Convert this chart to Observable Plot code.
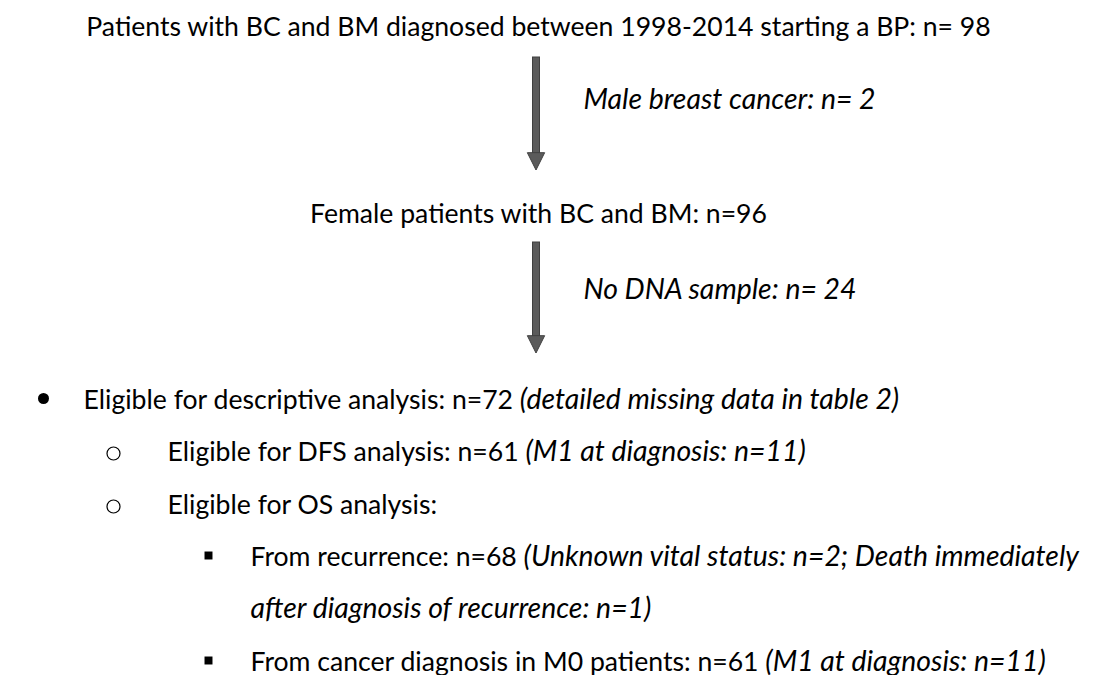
<!DOCTYPE html>
<html><head><meta charset="utf-8">
<script src="https://cdn.jsdelivr.net/npm/d3@7"></script>
<script src="https://cdn.jsdelivr.net/npm/@observablehq/plot@0.6"></script>
<style>html,body{margin:0;padding:0;background:#fff}svg{display:block}</style>
</head><body><div id="chart"></div>
<script>
// ---------- data ----------
const stepText = ["Patients with BC and BM diagnosed between 1998-2014 starting a BP: n= ", "Female patients with BC and BM: n="];
const stepN = [98, 96];
const exclText = ["Male breast cancer: n= ", "No DNA sample: n= "];
const exclN = [2, 24];
const listLevel = [0, 1, 1, 2, 3, 2]; // 3 = continuation line of level 2
const listMain = [
  "Eligible for descriptive analysis: n=72 ",
  "Eligible for DFS analysis: n=61 ",
  "Eligible for OS analysis:",
  "From recurrence: n=68 ",
  "",
  "From cancer diagnosis in M0 patients: n=61 "
];
const listNote = [
  "(detailed missing data in table 2)",
  "(M1 at diagnosis: n=11)",
  "",
  "(Unknown vital status: n=2; Death immediately",
  "after diagnosis of recurrence: n=1)",
  "(M1 at diagnosis: n=11)"
];

// ---------- layout ----------
const W = 1093, H = 675;
const FONT = "Lato, 'Open Sans', sans-serif";
const FS = 26.6;   // regular text
const FSI = 28.4;  // italic text
const centerX = 538, arrowX = 536, exclX = 583;
const stepRow = [35, 222];
const exclRow = [108, 298];
const arrowRow = [[57, 170], [242, 353]];
const listRow = [408, 460, 513, 565, 617, 670];
const bulletX = [43, 113, 208, null];
const textX = [83, 167, 250, 250];
const bulletLift = [10, 7, 10, 0];
const headLen = 17, headHalf = 8.5, shaftHalf = 3.5;

const steps = stepText.map((t, i) => ({text: t + stepN[i], y: stepRow[i]}));
const excl = exclText.map((t, i) => ({text: t + exclN[i], y: exclRow[i]}));
const arrows = arrowRow.map(([a, b], i) => ({i, y1: a, y2: b}));
const heads = arrows.flatMap(a => [
  {z: a.i, y: a.y2 - headLen, x1: arrowX - headHalf, x2: arrowX + headHalf},
  {z: a.i, y: a.y2, x1: arrowX, x2: arrowX}
]);
const list = listLevel.map((lv, i) => ({
  id: String(i), level: lv, main: listMain[i], note: listNote[i],
  x: textX[lv], y: listRow[i], bx: bulletX[lv], by: listRow[i] - bulletLift[lv]
}));

const chart = Plot.plot({
  width: W, height: H,
  margin: 0,
  x: {domain: [0, W], range: [0, W], axis: null},
  y: {domain: [0, H], range: [0, H], axis: null},
  style: {fontFamily: FONT, fontSize: FS + "px", background: "#fff", color: "#000"},
  marks: [
    // arrows
    Plot.rect(arrows, {x1: arrowX - shaftHalf, x2: arrowX + shaftHalf, y1: "y1", y2: d => d.y2 - headLen + 1,
      fill: "#5b5b5b", stroke: "#404040", strokeWidth: 1}),
    Plot.areaX(heads, {y: "y", x1: "x1", x2: "x2", z: "z", fill: "#5b5b5b", stroke: "#404040", strokeWidth: 1}),
    // main steps
    Plot.text(steps, {x: centerX, y: "y", text: "text", lineAnchor: "bottom", textAnchor: "middle",
      fontSize: FS, fill: "#000"}),
    // exclusions
    Plot.text(excl, {x: exclX, y: "y", text: "text", lineAnchor: "bottom", textAnchor: "start",
      fontSize: FSI, fontStyle: "italic", fill: "#000"}),
    // bullets
    Plot.dot(list.filter(d => d.level === 0), {x: "bx", y: "by", r: 5.5, fill: "#000", stroke: null}),
    Plot.dot(list.filter(d => d.level === 1), {x: "bx", y: "by", r: 6.5, fill: "none", stroke: "#000", strokeWidth: 1.2}),
    Plot.dot(list.filter(d => d.level === 2), {x: "bx", y: "by", r: 4.5, symbol: "square", fill: "#000", stroke: null}),
    // list text
    Plot.text(list, {x: "x", y: "y", text: d => d.main + d.note, lineAnchor: "bottom", textAnchor: "start",
      fontSize: FS, fill: "#000", ariaLabel: "id", ariaDescription: "list-lines"})
  ]
});

// split each list line into a regular part and an italic note
const g = chart.querySelector('g[aria-description="list-lines"]');
if (g) {
  g.querySelectorAll("text").forEach(t => {
    const d = list[+t.getAttribute("aria-label")];
    if (!d) return;
    t.textContent = "";
    t.setAttribute("style", "white-space:pre");
    if (d.main) {
      const a = document.createElementNS("http://www.w3.org/2000/svg", "tspan");
      a.textContent = d.main; t.appendChild(a);
    }
    if (d.note) {
      const b = document.createElementNS("http://www.w3.org/2000/svg", "tspan");
      b.textContent = d.note;
      b.setAttribute("font-style", "italic");
      b.setAttribute("font-size", FSI);
      t.appendChild(b);
    }
  });
}
document.getElementById("chart").appendChild(chart);
</script></body></html>
